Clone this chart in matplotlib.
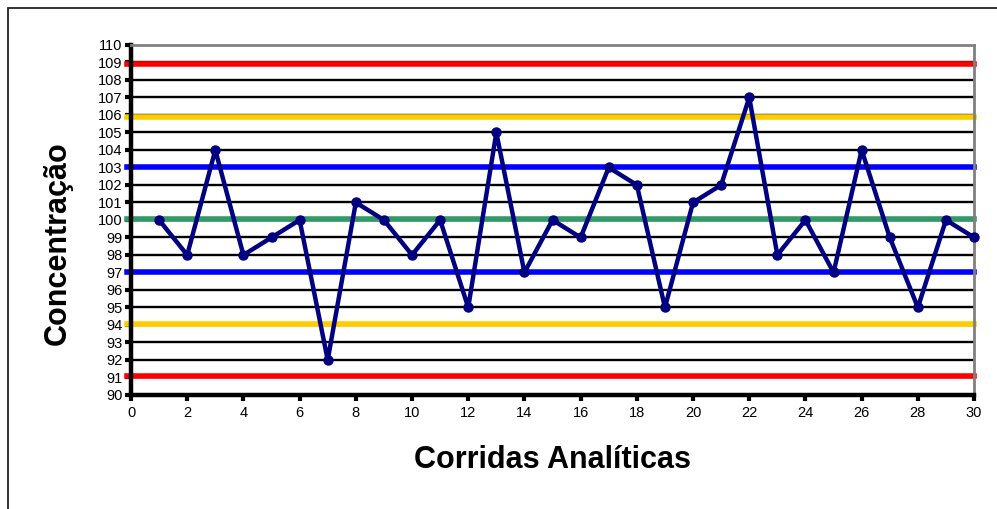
import matplotlib.pyplot as plt
from matplotlib.patches import Rectangle

plt.rcParams["font.family"] = ["Liberation Sans", "DejaVu Sans"]

runs = list(range(1, 31))
conc = [100, 98, 104, 98, 99, 100, 92, 101, 100, 98,
        100, 95, 105, 97, 100, 99, 103, 102, 95, 101,
        102, 107, 98, 100, 97, 104, 99, 95, 100, 99]

# control limits: mean, +/-1s, +/-2s, +/-3s
mean_line = 100.05
limits_1s = [103.0, 97.0]
limits_2s = [105.9, 94.05]
limits_3s = [108.9, 91.1]

fig = plt.figure(figsize=(9.97, 5.09), dpi=100)
ax = fig.add_axes([0.1314, 0.224, 0.8456, 0.6876])

# outer chart frame (runs off the right/bottom of the picture)
fig.patches.append(Rectangle((8 / 997, -0.1), 1.2, 1 - 8 / 509 + 0.1,
                             transform=fig.transFigure, fill=False,
                             edgecolor="#222222", linewidth=1.3))

ax.set_xlim(0, 30)
ax.set_ylim(90, 110)
ax.set_yticks(range(90, 111))
ax.set_xticks(range(0, 31, 2))

for y in range(91, 110):
    ax.axhline(y, color="black", linewidth=1.7, zorder=1)

x0, x1 = -0.15, 30
for y in limits_3s:
    ax.plot([x0, x1], [y, y], color="#ff0000", linewidth=4, clip_on=False, zorder=2)
for y in limits_2s:
    ax.plot([x0, x1], [y, y], color="#ffcc00", linewidth=4, clip_on=False, zorder=2)
for y in limits_1s:
    ax.plot([x0, x1], [y, y], color="#0000ff", linewidth=4, clip_on=False, zorder=2)
ax.plot([x0, x1], [mean_line, mean_line], color="#339966", linewidth=4, clip_on=False, zorder=2)

ax.plot(runs, conc, color="#000080", linewidth=3.2, marker="o", markersize=6.5,
        clip_on=False, zorder=4)

for side in ("top", "right"):
    ax.spines[side].set_color("#808080")
    ax.spines[side].set_linewidth(2)
for side in ("left", "bottom"):
    ax.spines[side].set_color("black")
    ax.spines[side].set_linewidth(3.2)

ax.tick_params(axis="both", direction="out", length=4, width=3,
               labelsize=10.5, pad=4, color="black")
ax.tick_params(axis="y", pad=2)

ax.set_xlabel("Corridas Analíticas", fontsize=22, fontweight="bold", labelpad=18)
fig.text(58 / 997, 1 - 243 / 509, "Concentração", rotation=90, ha="center",
         va="center", fontsize=22, fontweight="bold")

fig.savefig("out.png", dpi=100)
